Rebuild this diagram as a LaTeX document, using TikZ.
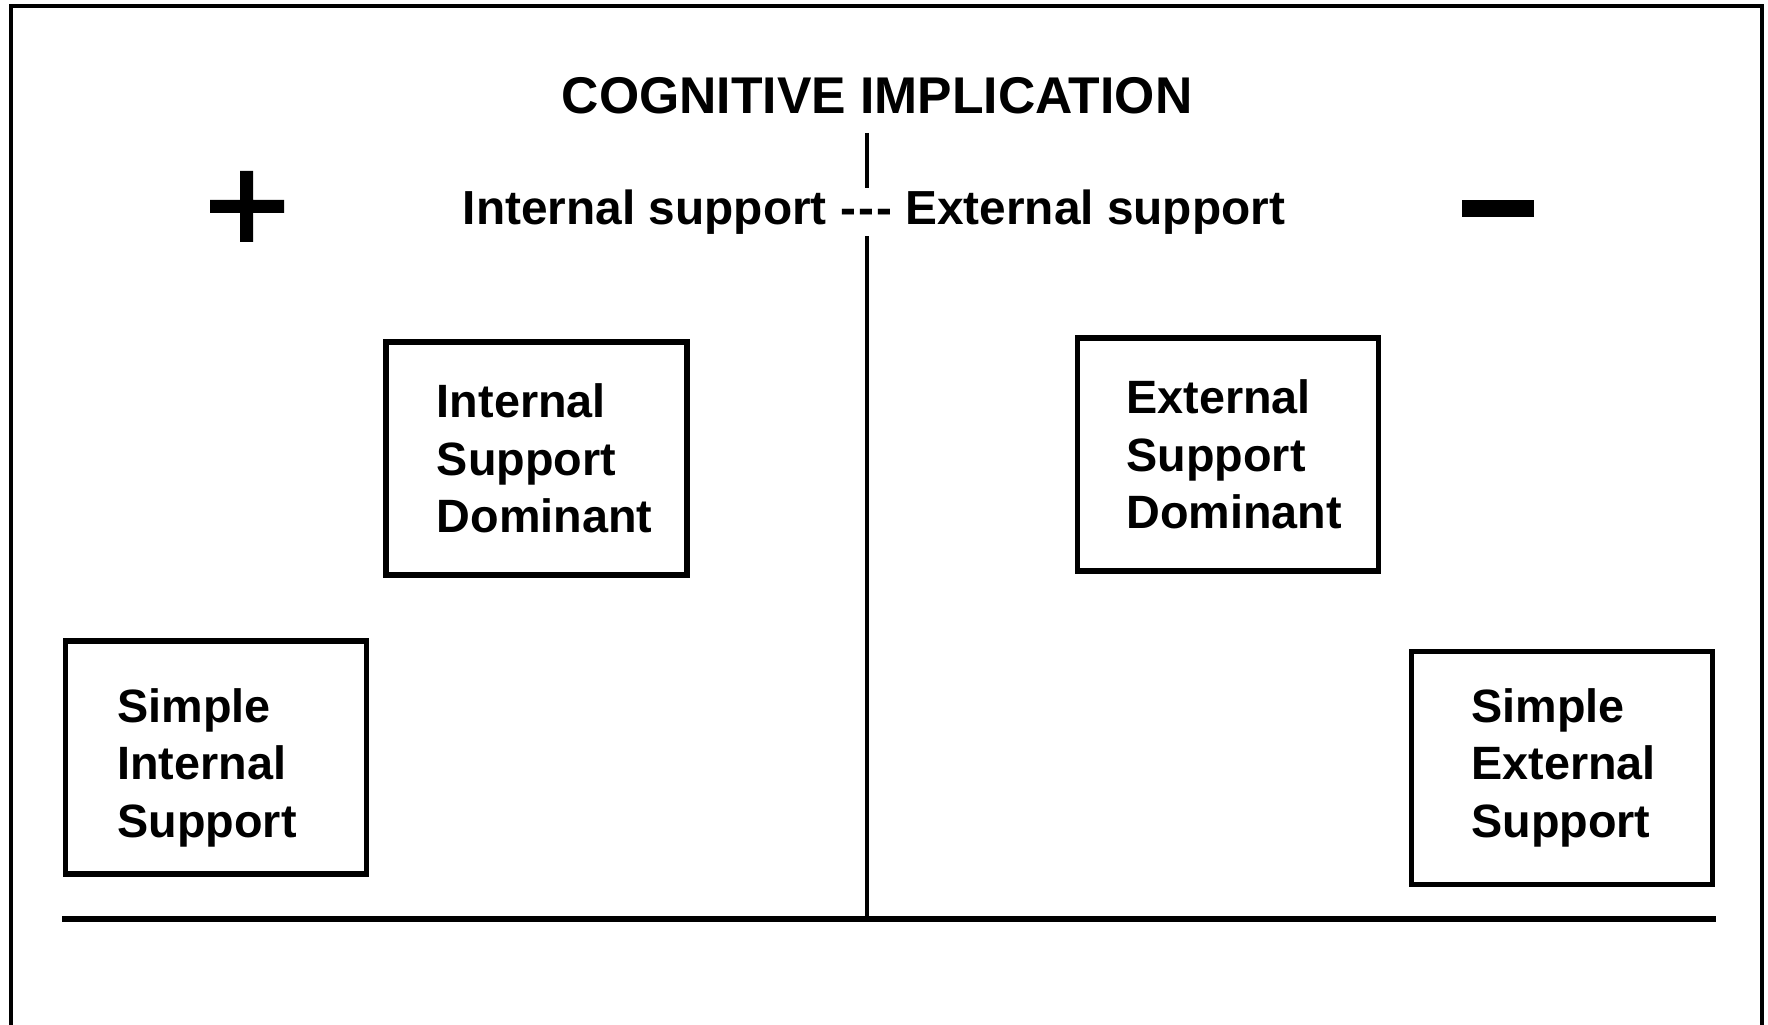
\documentclass[tikz,border=0pt]{standalone}
\usepackage{fontspec}
\setmainfont{Liberation Sans}
\begin{document}
\begin{tikzpicture}[x=0.1mm,y=-0.1mm,
    supbox/.style={draw,line width=1.6pt,minimum width=30.1mm,minimum height=23.3mm,inner ysep=0pt,align=left,font=\bfseries\fontsize{13.3}{16.4}\selectfont}]
    \useasboundingbox (0,0) rectangle (1768,1025);
    \draw[line width=1pt](11,1025)--(11,6)--(1762,6)--(1762,1025);
    \node[font=\bfseries\fontsize{14.7}{17}\selectfont] (title) at (877,96) {COGNITIVE IMPLICATION};
    \draw[line width=1.3pt](867,133)--(867,919);
    \draw[line width=1.6pt](62,919)--(1716,919);
    \node[fill=white,inner xsep=2pt,inner ysep=0.5pt,font=\bfseries\fontsize{13.6}{16}\selectfont] (sub) at (874,212) {Internal support -\kern0.6pt-\kern0.6pt- External support};
    \fill (210,200)rectangle(284,213) (240,171)rectangle(253,242);
    \fill (1462,200)rectangle(1534,217);
    \node[supbox,text width=19.96mm,inner xsep=5.07mm] (isd) at (536.7,458.4) {Internal\\Support\\Dominant};
    \node[supbox,text width=20.3mm,inner xsep=4.9mm] (esd) at (1228,454.4) {External\\Support\\Dominant};
    \node[supbox,text width=19.7mm,inner xsep=5.2mm,text depth=29.9pt] (sis) at (215.9,757.7) {Simple\\Internal\\Support};
    \node[supbox,text width=18.1mm,inner xsep=6mm] (ses) at (1561.8,767.9) {Simple\\External\\Support};
\end{tikzpicture}
\end{document}
